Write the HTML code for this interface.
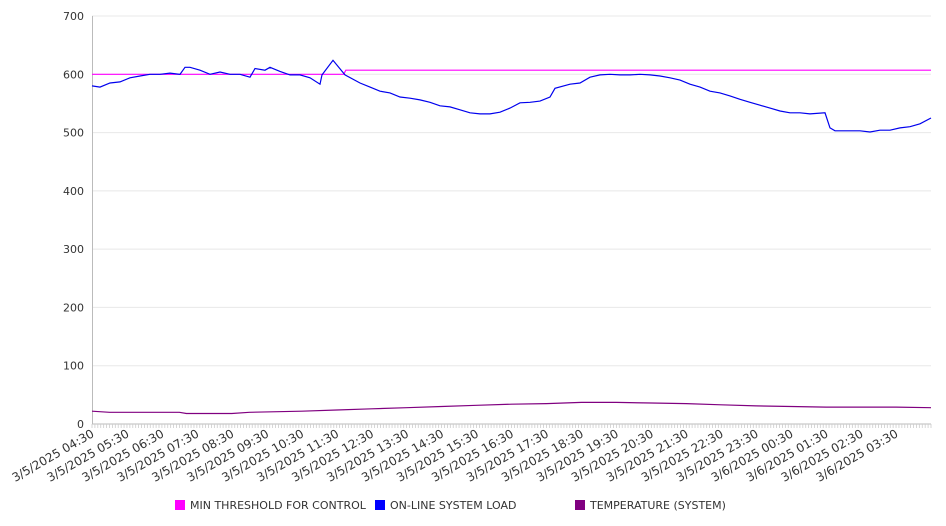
<!DOCTYPE html>
<html><head><meta charset="utf-8"><style>
html,body{margin:0;padding:0;background:#fff;}
svg{display:block;font-family:"DejaVu Sans","Liberation Sans",sans-serif;}
</style></head><body>
<svg id="chart" width="946" height="526" viewBox="0 0 946 526"></svg>
<script>
const yTicks=[0,100,200,300,400,500,600,700];
const xTickLabels=["3/5/2025 04:30","3/5/2025 05:30","3/5/2025 06:30","3/5/2025 07:30","3/5/2025 08:30","3/5/2025 09:30","3/5/2025 10:30","3/5/2025 11:30","3/5/2025 12:30","3/5/2025 13:30","3/5/2025 14:30","3/5/2025 15:30","3/5/2025 16:30","3/5/2025 17:30","3/5/2025 18:30","3/5/2025 19:30","3/5/2025 20:30","3/5/2025 21:30","3/5/2025 22:30","3/5/2025 23:30","3/6/2025 00:30","3/6/2025 01:30","3/6/2025 02:30","3/6/2025 03:30"];
// hours since 04:30
const thrTimes=[0,7.2,7.26,24];
const thrValues=[600,600,607,607];
const loadTimes=[0,0.229,0.515,0.801,1.087,1.373,1.659,1.945,2.231,2.517,2.660,2.803,3.089,3.375,3.661,3.947,4.233,4.519,4.662,4.948,5.091,5.378,5.664,5.950,6.236,6.522,6.579,6.894,7.237,7.666,7.952,8.238,8.524,8.810,9.096,9.382,9.668,9.954,10.240,10.526,10.812,11.098,11.384,11.670,11.957,12.243,12.529,12.815,13.101,13.244,13.673,13.959,14.245,14.531,14.817,15.103,15.389,15.675,15.961,16.247,16.533,16.819,17.105,17.391,17.677,17.963,18.249,18.535,18.822,19.108,19.394,19.680,19.966,20.252,20.538,20.967,21.110,21.253,21.682,21.968,22.254,22.540,22.826,23.112,23.398,23.684,24.0];
const loadValues=[580,578,585,587,594,597,600,600,602,600,612,612,607,600,604,600,600,595,610,607,612,605,599,599,594,583,599,624,599,585,578,571,568,561,559,556,552,546,544,539,534,532,532,535,542,551,552,554,561,576,583,585,595,599,600,599,599,600,599,597,594,590,583,578,571,568,563,557,552,547,542,537,534,534,532,534,508,503,503,503,501,504,504,508,510,515,525];
const tempTimes=[0,0.5,2.5,2.7,4,4.5,6,7,8,9,10,11,12,13,14,15,16,17,18,19,20,21,23,24];
const tempValues=[22,20,20,18,18,20,22,24,26,28,30,32,34,35,37,37,36,35,33,31,30,29,29,28];
const X0=92,X1=931,Y0=424,Y1=16,HMAX=24;
const ppH=(X1-X0)/HMAX;
function xs(h){return X0+h*ppH;}
function ys(v){return Y0-(v/700)*(Y0-Y1);}
const NS="http://www.w3.org/2000/svg";
const svg=document.getElementById('chart');
function mk(t,a,p){const e=document.createElementNS(NS,t);for(const k in a)e.setAttribute(k,a[k]);(p||svg).appendChild(e);return e;}
yTicks.forEach(v=>{
  const g=mk('line',{x1:X0,x2:X1,y1:ys(v),y2:ys(v),stroke:v===0?'#bbb':'#e8e8e8','stroke-width':1});
  
  
  const t=mk('text',{x:84,y:ys(v)+4,'text-anchor':'end','font-size':11,fill:'#333'});
  t.textContent=v;
  
  
});
const ax=mk('line',{x1:X0+0.5,x2:X0+0.5,y1:Y1,y2:Y0,stroke:'#bbb'});


for(let m=0;m<=HMAX*12;m++){const x=xs(m/12);if(x>X1)break;
  const tk=mk('line',{x1:x,x2:x,y1:Y0,y2:Y0+4,stroke:'#ccc','stroke-width':0.8});
  
  
}
xTickLabels.forEach((l,i)=>{
  const x=xs(i)+3,y=Y0+12;
  const t=mk('text',{x:x,y:y,'text-anchor':'end','font-size':12,fill:'#333',transform:`rotate(-30 ${x} ${y})`});
  t.textContent=l;
  
  
});
function line(ts,vs,color,name){
  const d=ts.map((h,i)=>(i?'L':'M')+xs(h).toFixed(1)+','+ys(vs[i]).toFixed(1)).join('');
  const p=mk('path',{d:d,fill:'none',stroke:color,'stroke-width':1.2});
  
  
}
line(tempTimes,tempValues,'#800080','temperature-line');
line(thrTimes,thrValues,'#ff00ff','min-threshold-line');
line(loadTimes,loadValues,'#0000ee','system-load-line');
const leg=[["#ff00ff","MIN THRESHOLD FOR CONTROL",175],["#0000ff","ON-LINE SYSTEM LOAD",375],["#800080","TEMPERATURE (SYSTEM)",575]];
leg.forEach(([c,l,x])=>{
  const g=mk('g',{});
  
  
  mk('rect',{x:x,y:500,width:10,height:10,fill:c},g);
  const t=mk('text',{x:x+15,y:509,'font-size':11,fill:'#333'},g);
  t.textContent=l;
});
</script>
</body></html>
